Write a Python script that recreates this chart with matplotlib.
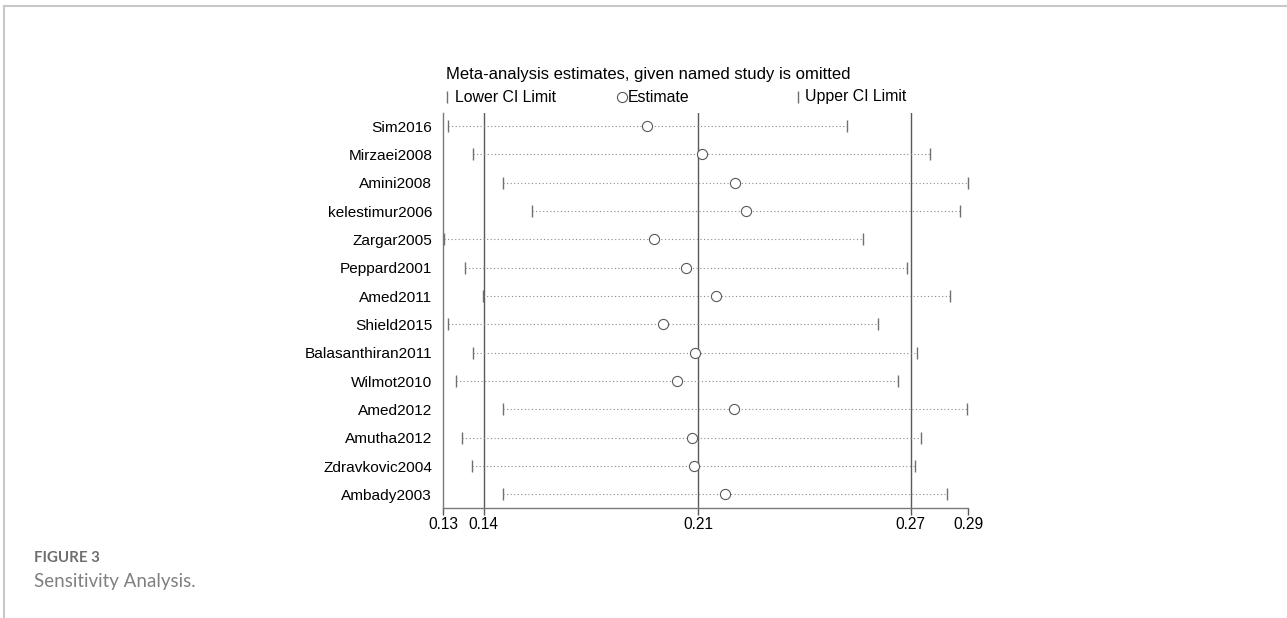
import numpy as np
import matplotlib
matplotlib.use("Agg")
import matplotlib.pyplot as plt
from matplotlib.lines import Line2D

studies = ["Sim2016", "Mirzaei2008", "Amini2008", "kelestimur2006", "Zargar2005",
           "Peppard2001", "Amed2011", "Shield2015", "Balasanthiran2011", "Wilmot2010",
           "Amed2012", "Amutha2012", "Zdravkovic2004", "Ambady2003"]
lower = [0.1313, 0.1391, 0.1481, 0.1570, 0.1302, 0.1367, 0.1419,
         0.1314, 0.1391, 0.1338, 0.1480, 0.1358, 0.1387, 0.1482]
estimate = [0.1918, 0.2084, 0.2186, 0.2218, 0.1938, 0.2035, 0.2128,
            0.1967, 0.2064, 0.2008, 0.2183, 0.2055, 0.2059, 0.2154]
upper = [0.2524, 0.2775, 0.2892, 0.2868, 0.2574, 0.2705, 0.2838,
         0.2619, 0.2735, 0.2680, 0.2887, 0.2750, 0.2729, 0.2827]

# overall CI lines and axis ticks (labels are rounded values)
ref_lines = [0.1423, 0.2073, 0.2717]
tick_vals = [0.1300, 0.1423, 0.2073, 0.2717, 0.2892]
tick_labels = ["0.13", "0.14", "0.21", "0.27", "0.29"]

W, H = 1287, 618
plt.rcParams['font.family'] = ['Liberation Sans', 'DejaVu Sans']
fig = plt.figure(figsize=(W / 100, H / 100), dpi=100)
ax = fig.add_axes([443.3 / W, 1 - 507.7 / H, 525 / W, (507.7 - 113) / H])

gray = "#5a5a5a"
y = np.arange(len(studies))
for i in range(len(studies)):
    ax.plot([lower[i], upper[i]], [y[i], y[i]], color="#8a8a8a", lw=0.8,
            linestyle=(0, (1, 2.2)), zorder=2)
ax.plot(lower, y, linestyle="none", marker="|", markersize=8, mew=1,
        color="#707070", zorder=3, clip_on=False)
ax.plot(upper, y, linestyle="none", marker="|", markersize=8, mew=1,
        color="#707070", zorder=3, clip_on=False)
ax.plot(estimate, y, linestyle="none", marker="o", markersize=7.3, mew=0.8,
        mfc="white", mec=gray, zorder=4)

for v in ref_lines:
    ax.axvline(v, color=gray, lw=1, zorder=1)

ax.set_xlim(tick_vals[0], tick_vals[-1])
ax.set_ylim(13.47, -0.46)
ax.set_xticks(tick_vals)
ax.set_xticklabels(tick_labels, fontsize=11.2)
ax.set_yticks(y)
ax.set_yticklabels(studies, fontsize=11.1)
ax.tick_params(axis="y", length=0, pad=8)
ax.tick_params(axis="x", length=5, width=1, color=gray, pad=2)
for s in ["top", "right"]:
    ax.spines[s].set_visible(False)
for s in ["left", "bottom"]:
    ax.spines[s].set_color("#7a7a7a")
    ax.spines[s].set_linewidth(1)

# title and legend row
fig.text(446 / W, 1 - 75 / H, "Meta-analysis estimates, given named study is omitted",
         fontsize=12, va="center", ha="left")
leg_y = 1 - 97 / H
fig.add_artist(Line2D([447.5 / W], [leg_y], marker="|", markersize=8, color="#707070",
                      linestyle="none"))
fig.text(455 / W, leg_y, "Lower CI Limit", fontsize=11.4, va="center", ha="left")
fig.add_artist(Line2D([622 / W], [leg_y], marker="o", markersize=7.3, mfc="white",
                      mec=gray, mew=0.8, linestyle="none"))
fig.text(628 / W, leg_y, "Estimate", fontsize=11.4, va="center", ha="left")
fig.add_artist(Line2D([797.5 / W], [leg_y], marker="|", markersize=8, color="#707070",
                      linestyle="none"))
fig.text(805 / W, leg_y, "Upper CI Limit", fontsize=11.4, va="center", ha="left")

# page frame (top and left edges)
fig.add_artist(Line2D([4 / W, 1], [1 - 6 / H, 1 - 6 / H], color="#c8c8c8", lw=1.5))
fig.add_artist(Line2D([4 / W, 4 / W], [0, 1 - 6 / H], color="#c8c8c8", lw=1.5))

# caption
fig.text(34 / W, 1 - 558 / H, "FIGURE 3", fontsize=10.8, fontweight="bold",
         family=["Lato", "DejaVu Sans"], color="#6e6e6e", va="center", ha="left")
fig.text(34 / W, 1 - 581 / H, "Sensitivity Analysis.", fontsize=13.5,
         family=["Lato", "DejaVu Sans"], color="#808080", va="center", ha="left")

fig.savefig("out.png", dpi=100)
